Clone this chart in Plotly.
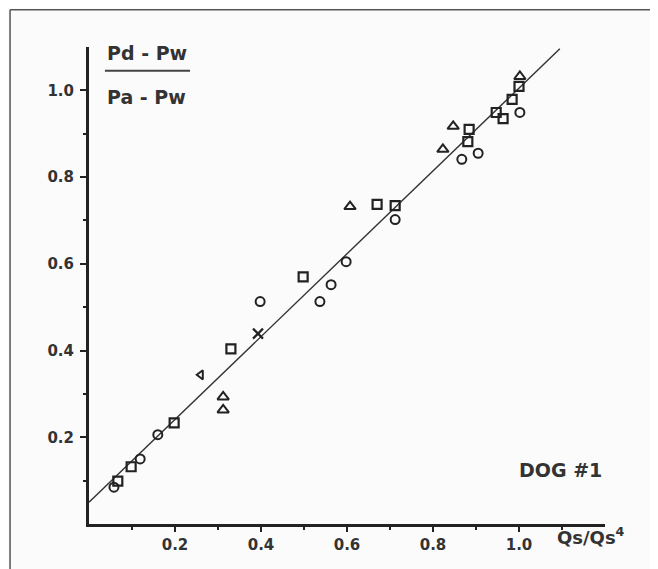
import plotly.graph_objects as go

# Qs/Qs' (x) vs (Pd-Pw)/(Pa-Pw) (y)
circle_x = [0.058, 0.119, 0.160, 0.398, 0.537, 0.563, 0.598, 0.712, 0.867, 0.905, 1.002]
circle_y = [0.085, 0.150, 0.206, 0.513, 0.513, 0.552, 0.605, 0.702, 0.841, 0.855, 0.949]

square_x = [0.067, 0.098, 0.198, 0.330, 0.498, 0.670, 0.712, 0.884, 0.881, 0.947, 0.963, 0.984, 1.000]
square_y = [0.099, 0.132, 0.233, 0.404, 0.570, 0.737, 0.734, 0.910, 0.882, 0.949, 0.935, 0.979, 1.009]

triangle_x = [0.312, 0.312, 0.607, 0.823, 0.847, 1.002]
triangle_y = [0.293, 0.263, 0.732, 0.864, 0.917, 1.032]

star_x = [0.393]
star_y = [0.439]
angle_x = [0.260]
angle_y = [0.344]

# regression line end points
fit_x = [0.0, 1.095]
fit_y = [0.05, 1.096]

x_ticks = [0.2, 0.4, 0.6, 0.8, 1.0]
y_ticks = [0.2, 0.4, 0.6, 0.8, 1.0]
x_minor = [0.1, 0.3, 0.5, 0.7, 0.9, 1.1]
y_minor = [0.1, 0.3, 0.5, 0.7, 0.9]

ink = '#222222'
font_name = 'DejaVu Sans'

fig = go.Figure()

fig.add_trace(go.Scatter(
    x=fit_x, y=fit_y, mode='lines',
    line=dict(color='#333333', width=1.4),
    hoverinfo='skip'
))


def add_markers(xs, ys, symbol, size=9, width=1.8):
    fig.add_trace(go.Scatter(
        x=xs, y=ys, mode='markers',
        marker=dict(symbol=symbol, size=size, color=ink,
                    line=dict(color=ink, width=width))
    ))


add_markers(circle_x, circle_y, 'circle-open', 9, 2)
add_markers(square_x, square_y, 'square-open', 9, 2.2)
add_markers(triangle_x, triangle_y, 'triangle-up-open', 10, 2)
add_markers(star_x, star_y, 'x-thin-open', 10, 2.2)
add_markers(angle_x, angle_y, 'triangle-left-open', 8, 2)

axis_font = dict(family=font_name, size=15, color='#333333', weight='bold')

fig.update_xaxes(
    range=[0, 1.2],
    tickmode='array', tickvals=x_ticks, ticktext=['0.2', '0.4', '0.6', '0.8', '1.0'],
    ticks='outside', ticklen=5, tickwidth=2, tickcolor=ink,
    minor=dict(tickvals=x_minor, ticks='outside', ticklen=3, tickwidth=1.5, tickcolor=ink),
    showline=True, linewidth=3, linecolor=ink,
    showgrid=False, zeroline=False, tickfont=axis_font
)
fig.update_yaxes(
    range=[0, 1.1],
    tickmode='array', tickvals=y_ticks, ticktext=['0.2', '0.4', '0.6', '0.8', '1.0'],
    ticks='outside', ticklen=6, tickwidth=2, tickcolor=ink, ticklabelstandoff=3,
    minor=dict(tickvals=y_minor, ticks='outside', ticklen=3, tickwidth=1.5, tickcolor=ink),
    showline=True, linewidth=3, linecolor=ink,
    showgrid=False, zeroline=False, tickfont=axis_font
)

label_font = dict(family=font_name, size=19, color='#333333', weight='bold')

fig.add_annotation(x=0.037, y=1.086, xref='x', yref='y', text='Pd - Pw',
                   showarrow=False, xanchor='left', font=label_font)
fig.add_annotation(x=0.037, y=0.985, xref='x', yref='y', text='Pa - Pw',
                   showarrow=False, xanchor='left', font=label_font)
fig.add_shape(type='line', x0=0.037, x1=0.235, y0=1.045, y1=1.045, xref='x', yref='y',
              line=dict(color='#444444', width=2))
fig.add_annotation(x=0.995, y=0.125, xref='x', yref='y', text='DOG #1',
                   showarrow=False, xanchor='left', font=label_font)
fig.add_annotation(x=1.084, y=-0.025, xref='x', yref='paper', text='Qs/Qs<sup>4</sup>',
                   showarrow=False, xanchor='left', yanchor='middle',
                   font=dict(family=font_name, size=18, color='#333333', weight='bold'))

# scanned page frame
fig.add_shape(type='line', xref='paper', yref='paper', x0=-0.153, x1=-0.153, y0=1.078, y1=-0.2,
              line=dict(color='#555555', width=1.5))
fig.add_shape(type='line', xref='paper', yref='paper', x0=-0.153, x1=1.2, y0=1.078, y1=1.078,
              line=dict(color='#555555', width=1.5))

fig.update_layout(
    width=650, height=561,
    margin=dict(l=81, r=53, t=39, b=45),
    paper_bgcolor='#fbfbfb', plot_bgcolor='#fbfbfb',
    showlegend=False
)

fig.write_html("out.html")
